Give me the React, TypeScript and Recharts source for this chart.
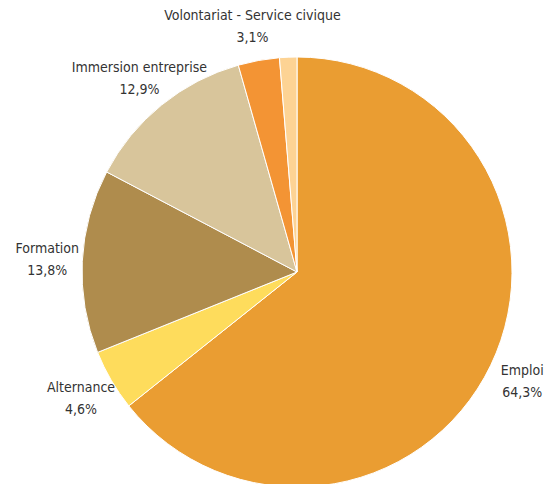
import React from 'react';
import { PieChart, Pie, Cell } from 'recharts';

const categories = ['Emploi', 'Alternance', 'Formation', 'Immersion entreprise', 'Volontariat - Service civique', ''];
const values = [64.3, 4.6, 13.8, 12.9, 3.1, 1.3];
const valueLabels = ['64,3%', '4,6%', '13,8%', '12,9%', '3,1%', ''];
const colors = ['#EA9D32', '#FEDC5C', '#AF8C4D', '#D8C59B', '#F39434', '#FDD394'];

const data = categories.map((name, i) => ({ name, value: values[i], label: valueLabels[i] }));

const FONT = '"DejaVu Sans Condensed", "Liberation Sans Narrow", sans-serif';
const RAD = Math.PI / 180;

const renderLabel = (props: any) => {
  const { cx, cy, midAngle, outerRadius, index } = props;
  const d = data[index];
  if (!d || !d.name) return null;
  const r = outerRadius + 35;
  const x = cx + r * Math.cos(-midAngle * RAD);
  const y = cy + r * Math.sin(-midAngle * RAD);
  return (
    <g>
      <text x={x} y={y - 11} textAnchor="middle" dominantBaseline="central" fill="#333" fontSize={14} fontFamily={FONT}>
        {d.name}
      </text>
      <text x={x} y={y + 11} textAnchor="middle" dominantBaseline="central" fill="#333" fontSize={14} fontFamily={FONT}>
        {d.label}
      </text>
    </g>
  );
};

export default function App() {
  return (
    <div style={{ position: 'absolute', left: 0, top: 0, width: 547, height: 484, background: '#fff' }}>
      <PieChart width={547} height={484}>
        <Pie
          data={data}
          dataKey="value"
          nameKey="name"
          cx={292}
          cy={267}
          outerRadius={215}
          startAngle={90}
          endAngle={-270}
          stroke="#fff"
          strokeWidth={1}
          label={renderLabel}
          labelLine={false}
          isAnimationActive={false}
        >
          {data.map((d, i) => (
            <Cell key={i} fill={colors[i]} />
          ))}
        </Pie>
      </PieChart>
    </div>
  );
}
